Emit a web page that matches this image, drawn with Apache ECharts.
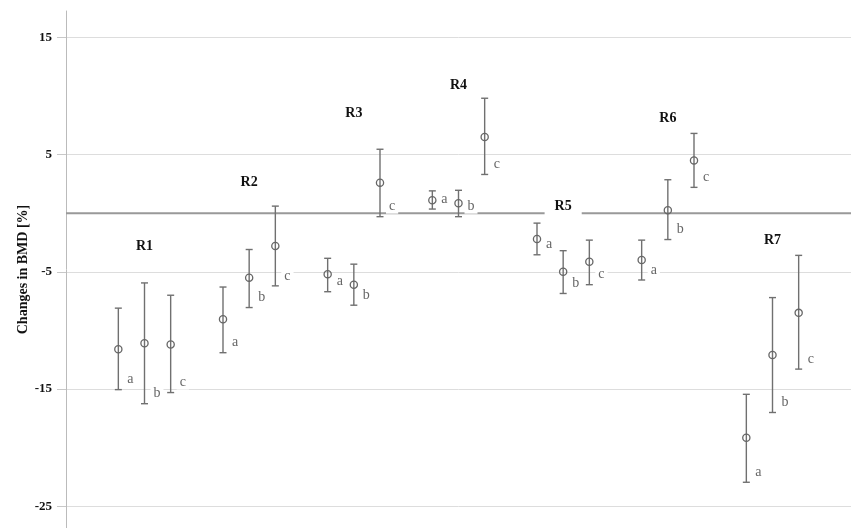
<!DOCTYPE html>
<html>
<head>
<meta charset="utf-8">
<script src="https://cdn.jsdelivr.net/npm/echarts@6/dist/echarts.min.js"></script>
<style>html,body{margin:0;padding:0;background:#fff}#c{width:851px;height:528px}</style>
</head>
<body>
<div id="c"></div>
<script>
const groups = ['R1','R2','R3','R4','R5','R6','R7'];
const subLabels = ['a','b','c'];
const means = [-11.6,-11.1,-11.2, -9.05,-5.5,-2.8, -5.2,-6.1,2.6, 1.1,0.85,6.5, -2.2,-5.0,-4.15, -4.0,0.25,4.5, -19.15,-12.1,-8.5];
const upper = [-8.1,-5.95,-7.0, -6.3,-3.1,0.6, -3.85,-4.35,5.45, 1.9,1.95,9.8, -0.85,-3.2,-2.3, -2.3,2.85,6.8, -15.45,-7.2,-3.6];
const lower = [-15.05,-16.25,-15.3, -11.9,-8.05,-6.2, -6.7,-7.85,-0.3, 0.35,-0.3,3.3, -3.55,-6.85,-6.1, -5.7,-2.25,2.2, -22.95,-17.0,-13.3];
const groupLabelY = [-2.8, 2.6, 8.55, 10.9, 0.6, 8.1, -2.3];
const yTicks = [15, 5, -5, -15, -25];
const zeroLine = 0;

const serif = 'Liberation Serif';
const slot = (g, s) => g * 4 + s;

const barData = [];
const letterData = [];
groups.forEach((g, gi) => {
  subLabels.forEach((s, si) => {
    const i = gi * 3 + si;
    barData.push([slot(gi, si), means[i], lower[i], upper[i]]);
    letterData.push([slot(gi, si), lower[i], s]);
  });
});
const groupData = groups.map((g, gi) => [slot(gi, 1), groupLabelY[gi], g]);

const chart = echarts.init(document.getElementById('c'));
chart.setOption({
  animation: false,
  backgroundColor: '#fff',
  grid: { left: 66, right: 0, top: 11, bottom: 0 },
  xAxis: { type: 'value', min: -2, max: 28, show: false },
  yAxis: {
    type: 'value', min: -26.85, max: 17.24,
    name: 'Changes in BMD [%]', nameLocation: 'middle', nameGap: 36, nameMoveOverlap: false,
    nameTextStyle: { fontFamily: serif, fontWeight: 'bold', fontSize: 14, color: '#111' },
    axisLine: { show: true, onZero: false, lineStyle: { color: '#bbb', width: 1 } },
    axisTick: { show: true, inside: false, length: 9, customValues: yTicks, lineStyle: { color: '#c8c8c8', width: 1 } },
    axisLabel: { customValues: yTicks, fontFamily: serif, fontWeight: 'bold', fontSize: 13, color: '#111', margin: 14 },
    splitLine: { show: true, lineStyle: { color: '#ddd', width: 1 } }
  },
  series: [
    {
      type: 'custom', z: 1, clip: false, data: [[0, zeroLine]],
      renderItem: (params, api) => {
        const cs = params.coordSys;
        const y = api.coord([0, api.value(1)])[1];
        return { type: 'line', shape: { x1: cs.x, y1: y, x2: cs.x + cs.width, y2: y }, style: { stroke: '#999', lineWidth: 2 } };
      }
    },
    {
      type: 'custom', z: 2, clip: false, data: barData,
      renderItem: (params, api) => {
        const x = api.value(0);
        const pm = api.coord([x, api.value(1)]);
        const pl = api.coord([x, api.value(2)]);
        const ph = api.coord([x, api.value(3)]);
        const st = { stroke: '#707070', lineWidth: 1.4, fill: null };
        return { type: 'group', children: [
          { type: 'line', shape: { x1: pl[0], y1: pl[1], x2: ph[0], y2: ph[1] }, style: st },
          { type: 'line', shape: { x1: pl[0] - 3.5, y1: pl[1], x2: pl[0] + 3.5, y2: pl[1] }, style: st },
          { type: 'line', shape: { x1: ph[0] - 3.5, y1: ph[1], x2: ph[0] + 3.5, y2: ph[1] }, style: st },
          { type: 'circle', shape: { cx: pm[0], cy: pm[1], r: 3.6 }, style: { stroke: '#666', lineWidth: 1.3, fill: 'rgba(255,255,255,0)' } }
        ]};
      }
    },
    {
      type: 'custom', z: 3, clip: false, data: letterData,
      renderItem: (params, api) => {
        const p = api.coord([api.value(0), api.value(1)]);
        return { type: 'text', x: p[0] + 6, y: p[1] - 10, style: {
          text: letterData[params.dataIndex][2], fontFamily: serif, fontSize: 14, fill: '#666',
          align: 'left', verticalAlign: 'middle', backgroundColor: '#fff', padding: [0, 3] } };
      }
    },
    {
      type: 'custom', z: 3, clip: false, data: groupData,
      renderItem: (params, api) => {
        const p = api.coord([api.value(0), api.value(1)]);
        return { type: 'text', x: p[0], y: p[1], style: {
          text: groupData[params.dataIndex][2], fontFamily: serif, fontWeight: 'bold', fontSize: 14, fill: '#111',
          align: 'center', verticalAlign: 'middle', backgroundColor: '#fff', padding: [2, 10] } };
      }
    }
  ]
});
</script>
</body>
</html>
